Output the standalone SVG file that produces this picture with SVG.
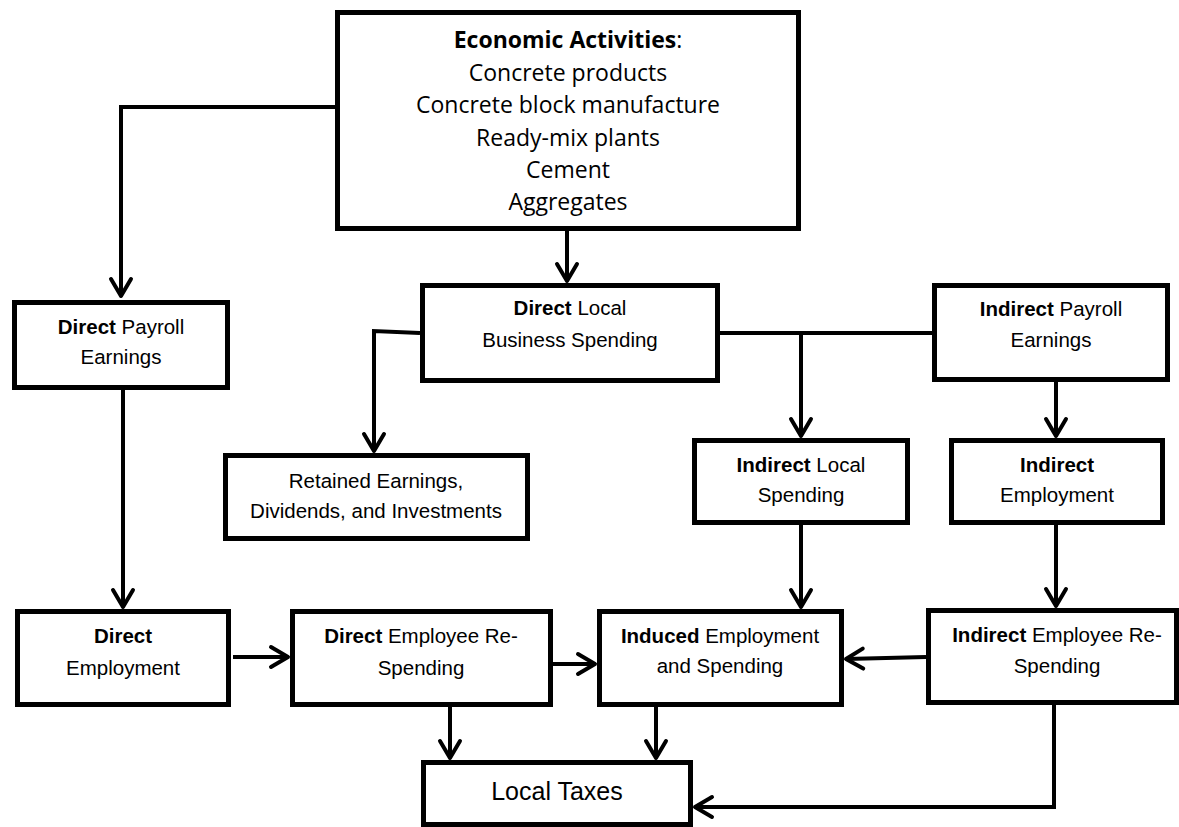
<svg xmlns="http://www.w3.org/2000/svg" width="1179" height="827" viewBox="0 0 1179 827">
<defs>
<style>
.box{fill:#fff;stroke:#000;stroke-width:5}
.t{font-family:"Liberation Sans",Arial,sans-serif;font-size:20.5px;fill:#000;text-anchor:middle}
.e{font-family:"Open Sans","Liberation Sans",sans-serif;font-size:23px;fill:#000;text-anchor:middle}
.b{font-weight:bold}
.c{fill:none;stroke:#000;stroke-width:4}
</style>
<marker id="arr" markerUnits="userSpaceOnUse" markerWidth="30" markerHeight="30" viewBox="-20 -15 25 30" refX="0" refY="0" orient="auto">
<path d="M-17,-10 L0,0 L-17,10" fill="none" stroke="#000" stroke-width="4" stroke-linecap="round" stroke-linejoin="round"/>
</marker>
</defs>
<rect width="1179" height="827" fill="#fff"/>
<g id="connectors">
<path class="c" d="M335,107 H121 V296" marker-end="url(#arr)"/>
<path class="c" d="M567,231 V281" marker-end="url(#arr)"/>
<path class="c" d="M420,333 L374,331 V451" marker-end="url(#arr)"/>
<path class="c" d="M720,333 H932"/>
<path class="c" d="M801,333 V436" marker-end="url(#arr)"/>
<path class="c" d="M1056,382 V436" marker-end="url(#arr)"/>
<path class="c" d="M123,390 V607" marker-end="url(#arr)"/>
<path class="c" d="M801,525 V607" marker-end="url(#arr)"/>
<path class="c" d="M1056,525 V606" marker-end="url(#arr)"/>
<path class="c" d="M233,657 H288" marker-end="url(#arr)"/>
<path class="c" d="M553,664 H595" marker-end="url(#arr)"/>
<path class="c" d="M926,657 L846,659" marker-end="url(#arr)"/>
<path class="c" d="M450,707 V758" marker-end="url(#arr)"/>
<path class="c" d="M656,707 V758" marker-end="url(#arr)"/>
<path class="c" d="M1054,705 V807 H695" marker-end="url(#arr)"/>
</g>
<g id="econ">
<rect class="box" x="337.5" y="12.5" width="461" height="216"/>
<text class="e" x="568" y="48"><tspan class="b">Economic Activities</tspan>:</text>
<text class="e" x="568" y="81">Concrete products</text>
<text class="e" x="568" y="113">Concrete block manufacture</text>
<text class="e" x="568" y="146">Ready-mix plants</text>
<text class="e" x="568" y="178">Cement</text>
<text class="e" x="568" y="210">Aggregates</text>
</g>
<g id="direct-payroll">
<rect class="box" x="14.5" y="302.5" width="213" height="85"/>
<text class="t" x="121" y="334"><tspan class="b">Direct</tspan> Payroll</text>
<text class="t" x="121" y="364">Earnings</text>
</g>
<g id="direct-local">
<rect class="box" x="422.5" y="285.5" width="295" height="95"/>
<text class="t" x="570" y="315"><tspan class="b">Direct</tspan> Local</text>
<text class="t" x="570" y="347">Business Spending</text>
</g>
<g id="indirect-payroll">
<rect class="box" x="934.5" y="285.5" width="233" height="94"/>
<text class="t" x="1051" y="316"><tspan class="b">Indirect</tspan> Payroll</text>
<text class="t" x="1051" y="347">Earnings</text>
</g>
<g id="retained">
<rect class="box" x="225.5" y="455.5" width="302" height="83"/>
<text class="t" x="376" y="488">Retained Earnings,</text>
<text class="t" x="376" y="518">Dividends, and Investments</text>
</g>
<g id="indirect-local">
<rect class="box" x="694.5" y="440.5" width="213" height="82"/>
<text class="t" x="801" y="472"><tspan class="b">Indirect</tspan> Local</text>
<text class="t" x="801" y="502">Spending</text>
</g>
<g id="indirect-employment">
<rect class="box" x="951.5" y="440.5" width="211" height="82"/>
<text class="t" x="1057" y="472"><tspan class="b">Indirect</tspan></text>
<text class="t" x="1057" y="502">Employment</text>
</g>
<g id="direct-employment">
<rect class="box" x="17.5" y="611.5" width="211" height="93"/>
<text class="t" x="123" y="643"><tspan class="b">Direct</tspan></text>
<text class="t" x="123" y="675">Employment</text>
</g>
<g id="direct-respending">
<rect class="box" x="292.5" y="611.5" width="258" height="93"/>
<text class="t" x="421" y="643"><tspan class="b">Direct</tspan> Employee Re-</text>
<text class="t" x="421" y="675">Spending</text>
</g>
<g id="induced">
<rect class="box" x="599.5" y="611.5" width="242" height="93"/>
<text class="t" x="720" y="643"><tspan class="b">Induced</tspan> Employment</text>
<text class="t" x="720" y="673">and Spending</text>
</g>
<g id="indirect-respending">
<rect class="box" x="928.5" y="610.5" width="248" height="92"/>
<text class="t" x="1057" y="642"><tspan class="b">Indirect</tspan> Employee Re-</text>
<text class="t" x="1057" y="673">Spending</text>
</g>
<g id="local-taxes">
<rect class="box" x="423.5" y="762.5" width="267" height="62"/>
<text class="t" x="557" y="800" style="font-size:25px">Local Taxes</text>
</g>
</svg>
